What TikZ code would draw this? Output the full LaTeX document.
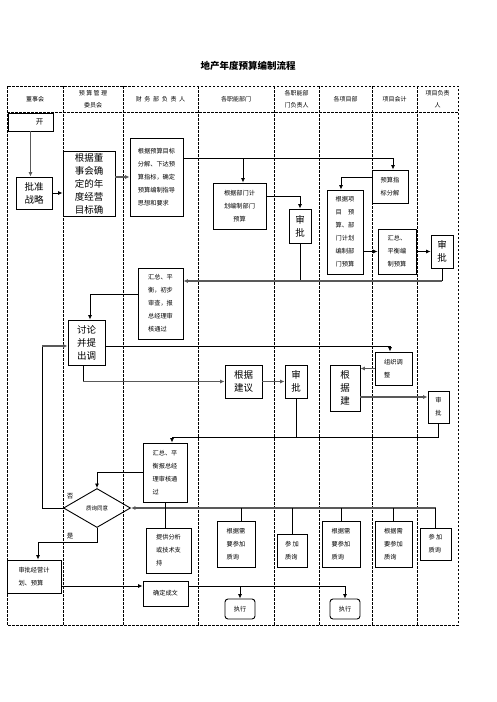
\documentclass[tikz,border=0pt]{standalone}
\usepackage{fontspec}
\setmainfont{Noto Sans CJK SC}
\usetikzlibrary{arrows.meta,shapes.geometric}
\tikzset{
    box/.style={draw,line width=0.9pt,inner sep=0pt},
    wh/.style 2 args={minimum width=#1pt,minimum height=#2pt},
    big/.style={font=\fontsize{9.5}{13}\selectfont,align=center},
    small/.style={font=\fontsize{6.2}{13}\selectfont,align=left},
    hdr/.style={font=\fontsize{6}{12}\selectfont,align=center},
    conn/.style={draw,line width=0.8pt},
    gconn/.style={draw,line width=1.6pt,color=black!65},
    lane/.style={line width=0.8pt,dash pattern=on 2.5pt off 1.5pt},
    >={Latex[length=4.5pt,width=4pt]}
}
\begin{document}
\begin{tikzpicture}[x=1pt,y=-1pt]
    \useasboundingbox (0,0) rectangle (496,702);
    \node[font=\fontsize{9.5}{11}\selectfont\bfseries] (title) at (248,66) {地产年度预算编制流程};
    % lanes
    \draw[lane] (7,86) rectangle (458,625);
    \draw[lane] (7,112) -- (458,112);
    \foreach \x in {63,123,198,274,319,372,417}
        \draw[lane] (\x,86) -- (\x,625);
    \foreach \x/\t [count=\i] in {35/董事会, 93/{预\ 算\ 管\ 理\\委员会}, 160.5/{财\ \ 务\ \ 部\ \ 负\ \ 责\ \ 人},
        236/各职能部门, 296.5/{各职能部\\门负责人}, 345.5/各项目部, 394.5/项目会计, 437.5/{项目负责\\人}}
        \node[hdr] (h\i) at (\x,99) {\t};
    % boxes
    \node[box,wh={45}{18},font=\fontsize{7.5}{9}\selectfont] (kai) at (30.5,122) {\hspace*{18pt}开};
    \node[box,wh={36}{32},big] (pizhun) at (34,193) {批准\\战略};
    \node[box,wh={52}{65},big] (dongshi) at (89,183.5) {根据董\\事会确\\定的年\\度经营\\目标确};
    \node[box,wh={53}{78},small] (yusuan) at (156.5,177) {根据预算目标\\分解、下达预\\算指标，确定\\预算编制指导\\思想和要求};
    \node[box,wh={53}{46},small,align=center] (bumen) at (239.5,206) {根据部门计\\划编制部门\\预算};
    \node[box,wh={22}{34},big] (shenpi1) at (300,226) {审\\批};
    \node[box,wh={36}{33},small] (zhibiao) at (390,186.5) {预算指\\标分解};
    \node[box,wh={36}{84},small] (xiangmu) at (345,232) {根据项\\目\hspace{6.2pt}预\\算、部\\门计划\\编制部\\门预算};
    \node[box,wh={38}{45},small] (huizong) at (397,251.5) {汇总、\\平衡编\\制预算};
    \node[box,wh={22}{33},big] (shenpi2) at (442,251.5) {审\\批};
    \node[box,wh={45}{71},small] (chubu) at (160.5,303.5) {汇总、平\\衡，初步\\审查，报\\总经理审\\核通过};
    \node[box,wh={37}{45},big] (taolun) at (86.5,342.5) {讨论\\并提\\出调};
    \node[box,wh={37}{33},big] (jianyi) at (243.5,381.5) {根据\\建议};
    \node[box,wh={22}{33},big] (shenpi3) at (296,381.5) {审\\批};
    \node[box,wh={37}{33},small] (tiaozheng) at (393.5,368.5) {组织调\\整};
    \node[box,wh={30}{46},big] (genju) at (345,388) {根\\据\\建};
    \node[box,wh={21}{32},small] (shenpi4) at (438.5,407) {审\\批};
    \node[box,wh={44}{59},small] (baozong) at (165,472.5) {汇总、平\\衡报总经\\理审核通\\过};
    \node[draw,line width=0.9pt,diamond,inner sep=0pt,wh={67}{39},font=\fontsize{5.5}{7}\selectfont] (zhixun) at (97,508) {质询同意};
    \node[box,wh={45}{45},small] (tigong) at (168.5,550.5) {提供分析\\或技术支\\持};
    \node[box,wh={38}{46},small] (zhixun1) at (236,544) {根据需\\要参加\\质询};
    \node[box,wh={30}{33},small] (zhixun2) at (292,550.5) {参\ 加\\质询};
    \node[box,wh={38}{46},small] (zhixun3) at (341,544) {根据需\\要参加\\质询};
    \node[box,wh={37}{46},small] (zhixun4) at (393.5,544) {根据需\\要参加\\质询};
    \node[box,wh={31}{32},small] (zhixun5) at (435.5,544) {参\ 加\\质询};
    \node[box,wh={54}{33},small] (shenpijy) at (34,576.5) {审批经营计\\划、预算};
    \node[box,wh={45}{25},small] (queding) at (165.5,593.5) {确定成文};
    \node[box,wh={30}{20},small,rounded corners=3pt] (zhixing1) at (240,609) {执行};
    \node[box,wh={30}{20},small,rounded corners=3pt] (zhixing2) at (345,609) {执行};
    \node[font=\fontsize{6.5}{8}\selectfont] (fou) at (70,496) {否};
    \node[font=\fontsize{6.5}{8}\selectfont] (shi) at (70,536) {是};
    % route levels
    \coordinate (r1) at (0,158);
    \coordinate (r2) at (0,196);
    \coordinate (r3) at (0,177);
    \coordinate (r4) at (0,281);
    \coordinate (r5) at (0,294);
    \coordinate (r6) at (0,346);
    \coordinate (r7) at (0,397);
    \coordinate (r8) at (0,437);
    \coordinate (r9) at (0,542);
    \coordinate (r10) at (0,586);
    \coordinate (c1) at (42,0);
    \coordinate (c2) at (83,0);
    % connectors
    \draw[gconn,->] (kai.south) -- (kai.south |- pizhun.north);
    \draw[conn,->] (pizhun.east) -- (pizhun.east -| dongshi.west);
    \draw[gconn,->] (yusuan.west -| dongshi.east) -- (yusuan.west);
    \draw[conn,->] (yusuan.east |- r1) -| ([xshift=3pt]zhibiao.north);
    \draw[conn,->] ([xshift=3.5pt]bumen.north |- r1) -- ([xshift=3.5pt]bumen.north);
    \draw[conn,->] (bumen.east |- r2) -| (shenpi1.north);
    \draw[conn,->] (zhibiao.west |- r3) -| ([xshift=-4pt]xiangmu.north);
    \draw[conn,->] (xiangmu.east |- huizong) -- (huizong.west);
    \draw[conn,->] (huizong.east) -- (shenpi2.west);
    \draw[conn] (shenpi2.south) -- (shenpi2.south |- r4);
    \draw[conn] (shenpi1.south) -- (shenpi1.south |- r4);
    \draw[gconn,->] (shenpi2.south |- r4) -- (chubu.east |- r4);
    \draw[conn,->] (chubu.west |- r5) -| ([xshift=3.5pt]taolun.north);
    \draw[conn,->] (taolun.east |- r6) -| ([xshift=-3.5pt]tiaozheng.north);
    \draw[conn] (c2 |- taolun.south) -- (c2 |- jianyi.west);
    \draw[gconn,->] (c2 |- jianyi.west) -- (jianyi.west);
    \draw[gconn,->] (jianyi.east) -- (shenpi3.west);
    \draw[gconn,->] (tiaozheng.west) -- (tiaozheng.west -| genju.east);
    \draw[gconn,->] (genju.east |- r7) -- (shenpi4.west |- r7);
    \draw[conn,->] (shenpi4.south) |- ([xshift=7pt]baozong.north |- r8) -- ([xshift=7pt]baozong.north);
    \draw[conn] (shenpi3.south) -- (shenpi3.south |- r8);
    \draw[conn,->] (baozong.west) -| (zhixun.north);
    \draw[conn] (zhixun.west) -| (c1 |- r6);
    \draw[gconn,->] (c1 |- r6) -- (taolun.west |- r6);
    \draw[conn,->] (zhixun.south) |- ([xshift=4pt]shenpijy.north |- r9) -- ([xshift=4pt]shenpijy.north);
    \draw[conn,->] (shenpijy.east |- r10) -- (queding.west |- r10);
    \draw[conn,->] (queding.east |- r10) -| (zhixing2.north);
    \draw[conn,->] (zhixing1.north |- r10) -- (zhixing1.north);
    \draw[gconn,->] (zhixun5.north |- zhixun) -- (zhixun.east);
    \draw[conn] (baozong.south) -- (baozong.south |- tigong.north);
    \draw[conn] ([xshift=5pt]zhixun1.north) -- ([xshift=5pt]zhixun1.north |- zhixun);
    \foreach \n in {zhixun2,zhixun3,zhixun4,zhixun5}
        \draw[conn] (\n.north) -- (\n.north |- zhixun);
\end{tikzpicture}
\end{document}
